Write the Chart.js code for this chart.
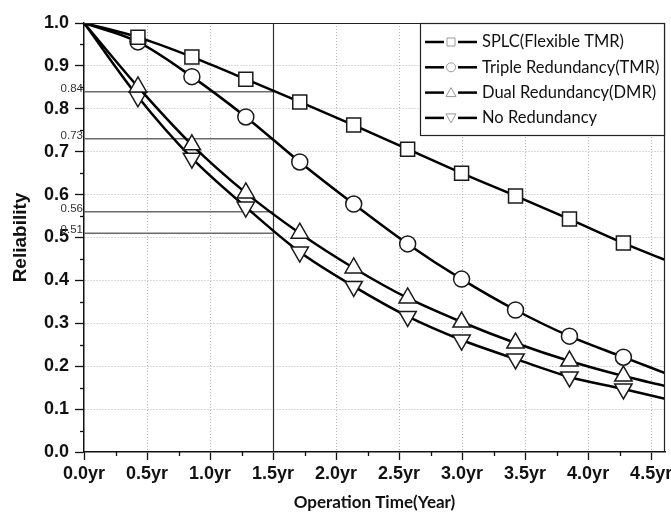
<!DOCTYPE html>
<html>
<head>
<meta charset="utf-8">
<script src="https://cdn.jsdelivr.net/npm/chart.js@4.4.0/dist/chart.umd.min.js"></script>
<style>
  html, body { margin: 0; padding: 0; background: #fff; }
  #wrap { width: 671px; height: 513px; }
</style>
</head>
<body>
<div id="wrap"><canvas id="reliability"></canvas></div>
<script>
// operation time of each sample (years); the last one is the right edge of the plot
var years = [0, 0.428, 0.856, 1.284, 1.712, 2.14, 2.568, 2.996, 3.424, 3.852, 4.28, 4.61];

// reliability
var splc  = [1.0, 0.967, 0.921, 0.869, 0.816, 0.762, 0.706, 0.650, 0.597, 0.543, 0.487, 0.448];
var tmr   = [1.0, 0.956, 0.875, 0.781, 0.676, 0.578, 0.485, 0.403, 0.331, 0.270, 0.221, 0.184];
var dmr   = [1.0, 0.851, 0.716, 0.604, 0.510, 0.429, 0.359, 0.303, 0.254, 0.212, 0.177, 0.154];
var noRed = [1.0, 0.828, 0.685, 0.571, 0.466, 0.386, 0.316, 0.261, 0.217, 0.175, 0.147, 0.124];

var seriesNames = ["SPLC(Flexible TMR)", "Triple Redundancy(TMR)", "Dual Redundancy(DMR)", "No Redundancy"];

// reliability of each scheme at 1.5 years (the marked lines)
var markTime = 1.5;
var markValues = [0.84, 0.73, 0.56, 0.51];

var xMax = 4.61;

function makeSet(label, values, style, radius, rotation) {
  var last = values.length - 1;
  return {
    label: label,
    data: values.map(function (v, i) { return { x: years[i], y: v }; }),
    borderColor: '#000',
    borderWidth: 2.5,
    backgroundColor: '#fff',
    pointStyle: style,
    pointRotation: rotation || 0,
    // no marker on the start point and the edge point
    pointRadius: function (c) { return (c.dataIndex === 0 || c.dataIndex === last) ? 0 : radius; },
    pointBorderColor: '#1a1a1a',
    pointBackgroundColor: '#fff',
    pointBorderWidth: 1.5,
    cubicInterpolationMode: 'monotone',
    fill: false
  };
}

function strokeLine(ctx, x1, y1, x2, y2) {
  ctx.beginPath();
  ctx.moveTo(x1, y1);
  ctx.lineTo(x2, y2);
  ctx.stroke();
}

// small legend glyphs
function legendMarker(ctx, kind, x, y) {
  var s = 4;
  ctx.beginPath();
  if (kind === 0) {
    ctx.rect(x - s, y - s, 2 * s, 2 * s);
  } else if (kind === 1) {
    ctx.arc(x, y, s + 0.5, 0, Math.PI * 2);
  } else if (kind === 2) {
    ctx.moveTo(x, y - s - 1); ctx.lineTo(x + s + 1, y + s); ctx.lineTo(x - s - 1, y + s); ctx.closePath();
  } else {
    ctx.moveTo(x, y + s + 1); ctx.lineTo(x + s + 1, y - s); ctx.lineTo(x - s - 1, y - s); ctx.closePath();
  }
  ctx.fillStyle = '#fff';
  ctx.fill();
  ctx.stroke();
}

var extras = {
  id: 'extras',
  beforeDatasetsDraw: function (chart) {
    var ctx = chart.ctx, xs = chart.scales.x, ys = chart.scales.y, area = chart.chartArea;
    ctx.save();
    var xm = Math.round(xs.getPixelForValue(markTime)) + 0.5;
    ctx.strokeStyle = '#333';
    ctx.lineWidth = 1.2;
    strokeLine(ctx, xm, area.top, xm, area.bottom);

    ctx.strokeStyle = '#6b6b6b';
    ctx.lineWidth = 1.5;
    markValues.forEach(function (v) {
      var y = ys.getPixelForValue(v);
      strokeLine(ctx, area.left, y, xm, y);
    });
    ctx.restore();
  },
  afterDraw: function (chart) {
    var ctx = chart.ctx, xs = chart.scales.x, ys = chart.scales.y, area = chart.chartArea;
    ctx.save();

    // frame on top and right
    ctx.strokeStyle = '#222';
    ctx.lineWidth = 1.2;
    strokeLine(ctx, area.left, area.top + 0.5, area.right, area.top + 0.5);
    strokeLine(ctx, area.right - 0.5, area.top, area.right - 0.5, area.bottom);

    // minor ticks
    ctx.strokeStyle = '#111';
    ctx.lineWidth = 1.3;
    for (var v = 0.05; v < 1; v += 0.1) {
      var y = Math.round(ys.getPixelForValue(v)) + 0.5;
      strokeLine(ctx, area.left - 4, y, area.left, y);
    }
    for (var t = 0.25; t < xMax; t += 0.5) {
      var x = Math.round(xs.getPixelForValue(t)) + 0.5;
      strokeLine(ctx, x, area.bottom, x, area.bottom + 4);
    }

    // value labels of the marked lines
    ctx.fillStyle = '#333';
    ctx.font = '11.5px "Liberation Sans"';
    ctx.textAlign = 'right';
    ctx.textBaseline = 'middle';
    markValues.forEach(function (v) {
      ctx.fillText(v.toFixed(2), area.left - 1, ys.getPixelForValue(v) - 3);
    });

    // legend box
    var bx = 420, by = area.top, bw = area.right - 1 - bx, bh = 112;
    ctx.fillStyle = '#fff';
    ctx.fillRect(bx, by, bw, bh);
    ctx.strokeStyle = '#222';
    ctx.lineWidth = 1.2;
    ctx.strokeRect(bx + 0.5, by + 0.5, bw, bh);

    ctx.font = '16.5px Lato';
    ctx.textAlign = 'left';
    ctx.textBaseline = 'middle';
    seriesNames.forEach(function (name, i) {
      var ry = by + 19 + i * 25.3;
      ctx.strokeStyle = '#000';
      ctx.lineWidth = 2.5;
      strokeLine(ctx, bx + 5, ry, bx + 24, ry);
      strokeLine(ctx, bx + 38, ry, bx + 57, ry);
      ctx.strokeStyle = '#999';
      ctx.lineWidth = 1;
      legendMarker(ctx, i, bx + 31, ry);
      ctx.fillStyle = '#111';
      ctx.fillText(name, bx + 62, ry);
    });

    ctx.restore();
  }
};

var reliabilityChart = new Chart(document.querySelector('#reliability'), {
  type: 'line',
  data: {
    datasets: [
      makeSet(seriesNames[0], splc, 'rect', 9.9, 0),
      makeSet(seriesNames[1], tmr, 'circle', 8, 0),
      makeSet(seriesNames[2], dmr, 'triangle', 10, 0),
      makeSet(seriesNames[3], noRed, 'triangle', 10, 180)
    ]
  },
  options: {
    responsive: true,
    maintainAspectRatio: false,
    animation: false,
    layout: { padding: { top: 23, right: 6, bottom: 0, left: 0 } },
    plugins: {
      legend: { display: false },
      tooltip: { enabled: false }
    },
    scales: {
      x: {
        type: 'linear',
        min: 0,
        max: xMax,
        ticks: {
          stepSize: 0.5,
          includeBounds: false,
          maxRotation: 0,
          autoSkip: false,
          padding: 3,
          color: '#111',
          font: { family: 'Liberation Sans', weight: 'bold', size: 18 },
          callback: function (v) { return v.toFixed(1) + 'yr'; }
        },
        grid: {
          color: function (c) { return (c.tick && c.tick.value > 0) ? '#b5b5b5' : 'rgba(0,0,0,0)'; },
          lineWidth: 1,
          tickColor: '#111',
          tickWidth: 1.3,
          tickLength: 8
        },
        border: { color: '#111', width: 1.5, dash: [1, 2] },
        title: {
          display: true,
          text: 'Operation Time(Year)',
          color: '#111',
          font: { family: 'Lato', weight: 'bold', size: 17 },
          padding: { top: 0, bottom: 0 }
        },
        afterFit: function (s) { s.height = 61; s.paddingLeft = 0; s.paddingRight = 0; }
      },
      y: {
        min: 0,
        max: 1,
        ticks: {
          stepSize: 0.1,
          padding: 6,
          color: '#111',
          font: { family: 'Liberation Sans', weight: 'bold', size: 18 },
          callback: function (v) { return v.toFixed(1); }
        },
        grid: {
          color: function (c) { return (c.tick && c.tick.value > 0.001 && c.tick.value < 0.999) ? '#b5b5b5' : 'rgba(0,0,0,0)'; },
          lineWidth: 1,
          tickColor: '#111',
          tickWidth: 1.3,
          tickLength: 9
        },
        border: { color: '#111', width: 1.5, dash: [1, 2] },
        title: {
          display: true,
          text: 'Reliability',
          color: '#111',
          font: { family: 'Liberation Sans', weight: 'bold', size: 19 },
          padding: { top: 9, bottom: 0 }
        },
        afterFit: function (s) { s.width = 84; s.paddingTop = 0; s.paddingBottom = 0; }
      }
    }
  },
  plugins: [extras]
});
</script>
</body>
</html>
